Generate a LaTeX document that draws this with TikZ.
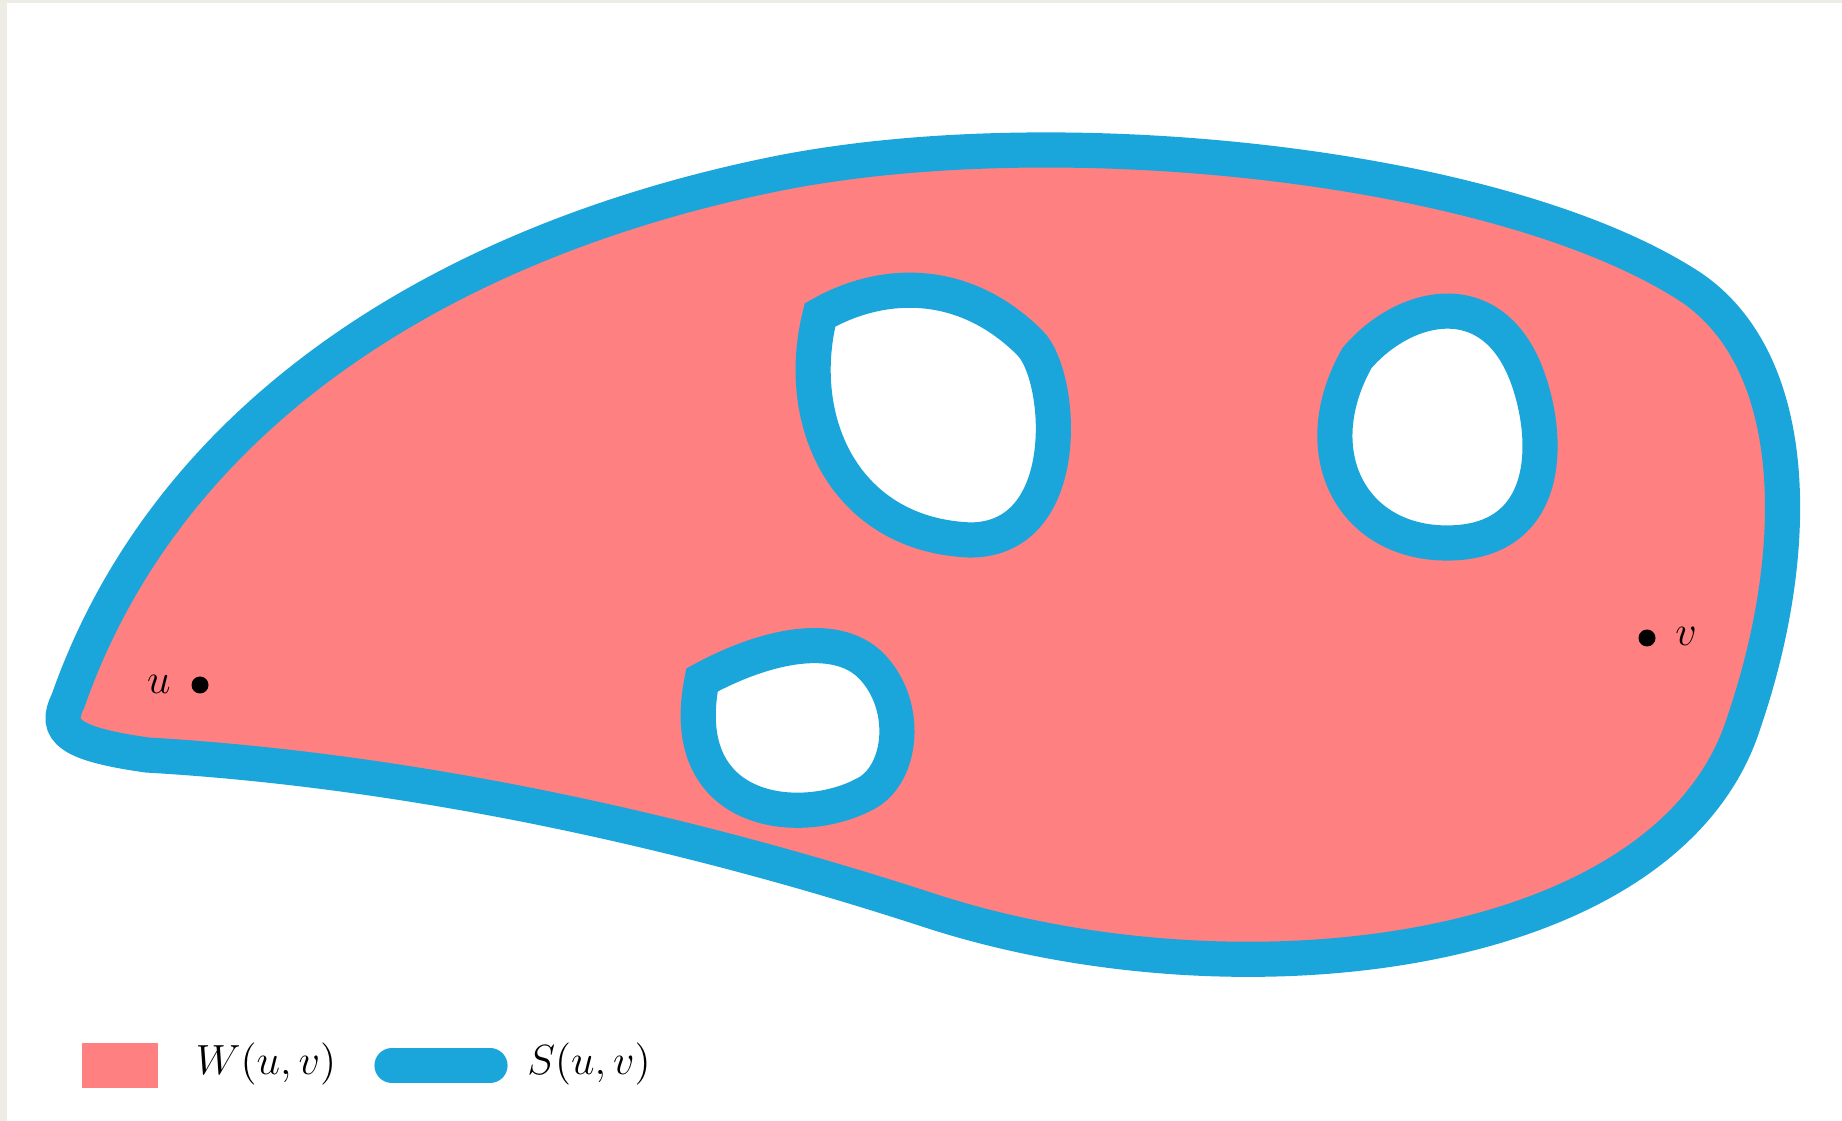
\documentclass[tikz,border=0pt]{standalone}
\definecolor{wred}{RGB}{255,128,128}
\definecolor{sblue}{RGB}{27,166,219}
\definecolor{bgframe}{RGB}{237,237,229}
\begin{document}
\begin{tikzpicture}[
    wregion/.style={fill=wred},
    sline/.style={draw=sblue,line width=10pt},
    dot/.style={circle,fill=black,inner sep=0pt,minimum size=1.7mm},
    font=\large]
  % page and frame
  \fill[bgframe] (0,0) rectangle (18.42,-11.21);
  \fill[white] (0.07,-0.03) rectangle (18.42,-11.21);
  % W(u,v) with its holes, border S(u,v)
  \path[wregion,sline,even odd rule]
    (0.68,-7.01) .. controls (1.70,-4.10) and (4.50,-2.40) .. (7.75,-1.74)
      .. controls (10.57,-1.17) and (15.04,-1.64) .. (16.92,-2.88)
      .. controls (18.02,-3.64) and (18.02,-5.52) .. (17.44,-7.22)
      .. controls (16.68,-9.63) and (12.33,-10.10) .. (9.28,-9.10)
      .. controls (6.58,-8.22) and (3.88,-7.69) .. (1.47,-7.55)
      .. controls (0.70,-7.44) and (0.53,-7.31) .. cycle
    (8.20,-3.15) .. controls (8.81,-2.80) and (9.63,-2.76) .. (10.30,-3.43)
      .. controls (10.63,-3.76) and (10.75,-5.40) .. (9.70,-5.40)
      .. controls (8.46,-5.35) and (7.93,-4.23) .. cycle
    (13.57,-3.58) .. controls (14.04,-3.03) and (14.92,-2.82) .. (15.27,-3.76)
      .. controls (15.51,-4.41) and (15.51,-5.43) .. (14.47,-5.43)
      .. controls (13.51,-5.43) and (13.04,-4.52) .. cycle
    (7.02,-6.80) .. controls (7.64,-6.46) and (8.40,-6.28) .. (8.75,-6.70)
      .. controls (9.10,-7.11) and (9.01,-7.78) .. (8.63,-7.95)
      .. controls (7.99,-8.28) and (6.75,-8.15) .. cycle;
  % the two points
  \node[dot] (u) at (2.00,-6.85) {};
  \node (ulab) at (1.59,-6.84) {$u$};
  \node[dot] (v) at (16.47,-6.38) {};
  \node (vlab) at (16.86,-6.36) {$v$};
  % legend
  \fill[wred] (0.82,-10.43) rectangle (1.58,-10.88);
  \node (wlab) at (2.66,-10.64) {$W(u,v)$};
  \coordinate (sa) at (3.92,-10.655);
  \coordinate (sb) at (4.90,-10.655);
  \draw[sline,line cap=round] (sa) -- (sb);
  \node (slab) at (5.89,-10.64) {$S(u,v)$};
\end{tikzpicture}
\end{document}
